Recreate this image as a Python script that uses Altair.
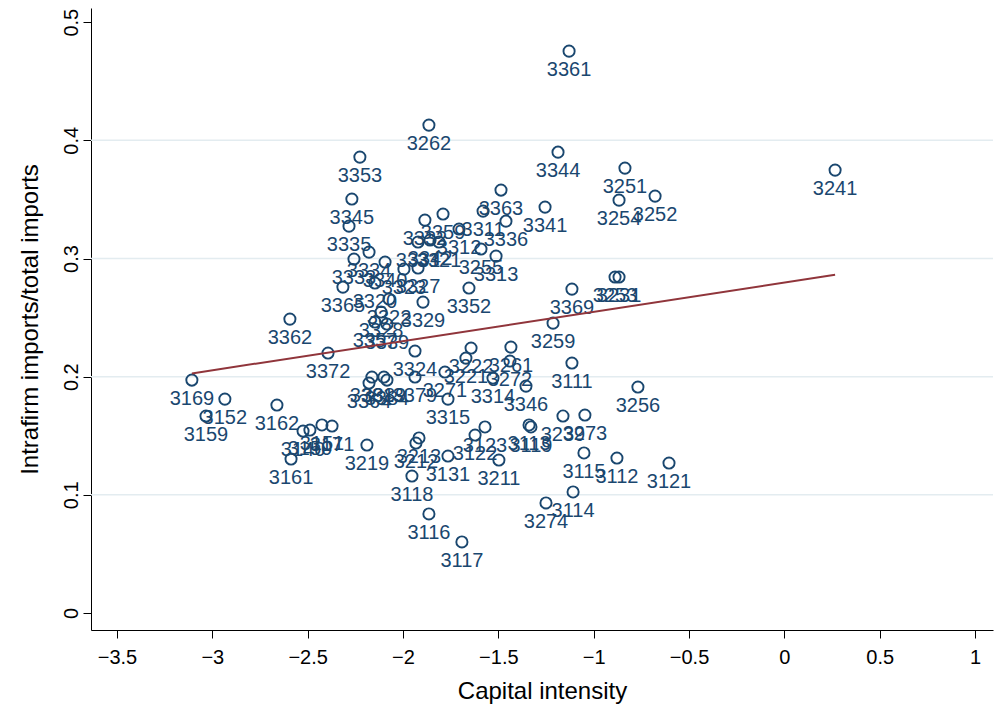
import altair as alt
import pandas as pd

# Industry codes (ISIC, 4-digit), capital intensity and intrafirm import share
codes = [
    "3361", "3262", "3353", "3344", "3251", "3241", "3252", "3254", "3345", "3363",
    "3311", "3341", "3336", "3359", "3332", "3312", "3331", "3342", "3321", "3255",
    "3313", "3352", "3329", "3369", "3253", "3231", "3259", "3362", "3335", "3333",
    "3334", "3340", "3365", "3320", "3322", "3323", "3327", "3328", "3357", "3339",
    "3372", "3324", "3222", "3261", "3221", "3272", "3271", "3314", "3346", "3315",
    "3111", "3256", "3381", "3389", "3364", "3379", "3384", "3169", "3152", "3159",
    "3162", "3140", "3150", "3151", "3171", "3161", "3219", "3213", "3212", "3131",
    "3118", "3116", "3117", "3122", "3123", "3113", "3119", "3239", "3273", "3211",
    "3115", "3112", "3121", "3114", "3274",
]
capital_intensity = [
    -1.129, -1.864, -2.226, -1.187, -0.836, 0.266, -0.678, -0.867, -2.268, -1.486,
    -1.580, -1.255, -1.460, -1.790, -1.885, -1.706, -1.921, -1.858, -1.811, -1.591,
    -1.512, -1.654, -1.895, -1.114, -0.888, -0.867, -1.213, -2.593, -2.283, -2.257,
    -2.178, -2.094, -2.315, -2.147, -2.073, -1.995, -1.921, -2.115, -2.147, -2.084,
    -2.393, -1.937, -1.643, -1.434, -1.670, -1.439, -1.780, -1.528, -1.355, -1.764,
    -1.114, -0.768, -2.163, -2.100, -2.178, -1.937, -2.084, -3.107, -2.934, -3.033,
    -2.661, -2.524, -2.488, -2.425, -2.372, -2.587, -2.189, -1.916, -1.932, -1.764,
    -1.953, -1.864, -1.691, -1.622, -1.570, -1.339, -1.329, -1.161, -1.046, -1.497,
    -1.051, -0.878, -0.605, -1.108, -1.250,
]
intrafirm_share = [
    0.4755, 0.4129, 0.3858, 0.3900, 0.3765, 0.3748, 0.3528, 0.3494, 0.3503, 0.3579,
    0.3401, 0.3435, 0.3316, 0.3376, 0.3325, 0.3249, 0.3139, 0.3156, 0.3139, 0.3080,
    0.3020, 0.2750, 0.2631, 0.2741, 0.2843, 0.2843, 0.2453, 0.2487, 0.3274, 0.2995,
    0.3054, 0.2970, 0.2758, 0.2792, 0.2657, 0.2910, 0.2919, 0.2547, 0.2462, 0.2445,
    0.2200, 0.2217, 0.2242, 0.2250, 0.2157, 0.2132, 0.2039, 0.1988, 0.1920, 0.1810,
    0.2115, 0.1912, 0.1997, 0.1997, 0.1946, 0.1997, 0.1971, 0.1971, 0.1810, 0.1667,
    0.1760, 0.1540, 0.1548, 0.1591, 0.1582, 0.1303, 0.1421, 0.1481, 0.1438, 0.1328,
    0.1159, 0.0838, 0.0601, 0.1506, 0.1574, 0.1591, 0.1574, 0.1667, 0.1675, 0.1294,
    0.1354, 0.1311, 0.1269, 0.1024, 0.0931,
]

x_ticks = [-3.5, -3, -2.5, -2, -1.5, -1, -0.5, 0, 0.5, 1]
y_ticks = [0, 0.1, 0.2, 0.3, 0.4, 0.5]
y_grid = [0.1, 0.2, 0.3, 0.4]

df = pd.DataFrame({"code": codes, "cap": capital_intensity, "share": intrafirm_share})
grid_df = pd.DataFrame({"g": y_grid})

NAVY = "#1a476f"
MAROON = "#90353b"
FONT = "Liberation Sans"

xs = alt.Scale(domain=[-3.636, 1.094], nice=False, zero=False)
ys = alt.Scale(domain=[-0.0144, 0.512], nice=False, zero=False)

x_axis = alt.Axis(
    values=x_ticks, format="~g",
    grid=False, tickSize=8, tickColor="black", tickWidth=1,
    domainColor="black", domainWidth=1,
    labelFontSize=20, labelColor="black", labelFont=FONT, labelPadding=9,
    labelFlush=False, labelOverlap=False,
    title="Capital intensity", titleFontSize=24, titleFont=FONT,
    titleFontWeight="normal", titleColor="black",
    titleY=61, titleBaseline="middle",
)
y_axis = alt.Axis(
    values=y_ticks, format="~g",
    grid=False, tickSize=8, tickColor="black", tickWidth=1,
    domainColor="black", domainWidth=1,
    labelFontSize=20, labelColor="black", labelFont=FONT, labelPadding=6,
    labelAngle=270, labelAlign="center", labelBaseline="alphabetic",
    labelFlush=False, labelOverlap=False,
    title="Intrafirm imports/total imports", titleFontSize=24, titleFont=FONT,
    titleFontWeight="normal", titleColor="black",
    titleAngle=270, titleAlign="center", titleBaseline="middle",
    titleX=-61, titleY=311,
)

grid = alt.Chart(grid_df).mark_rule(color="#e3ecf0", strokeWidth=1.5).encode(
    y=alt.Y("g:Q", scale=ys, axis=y_axis)
)

base = alt.Chart(df)

points = base.mark_point(
    shape="circle", filled=False, size=125, strokeWidth=1.9, color=NAVY, opacity=1
).encode(
    x=alt.X("cap:Q", scale=xs, axis=x_axis),
    y=alt.Y("share:Q", scale=ys, axis=y_axis),
)

labels = base.mark_text(
    dy=19, fontSize=20, font=FONT, color=NAVY, align="center", baseline="middle"
).encode(
    x=alt.X("cap:Q", scale=xs, axis=x_axis),
    y=alt.Y("share:Q", scale=ys, axis=y_axis),
    text="code:N",
)

fit = base.transform_regression("cap", "share").mark_line(
    color=MAROON, strokeWidth=2
).encode(
    x=alt.X("cap:Q", scale=xs, axis=x_axis),
    y=alt.Y("share:Q", scale=ys, axis=y_axis),
)

chart = alt.layer(grid, points, labels, fit).properties(
    width=902, height=622,
    autosize=alt.AutoSizeParams(type="none"),
    padding={"left": 91, "top": 8, "right": 3, "bottom": 81},
    background="white",
).configure_view(stroke=None)

chart.save("out.html", embed_options={"renderer": "svg", "actions": False})
